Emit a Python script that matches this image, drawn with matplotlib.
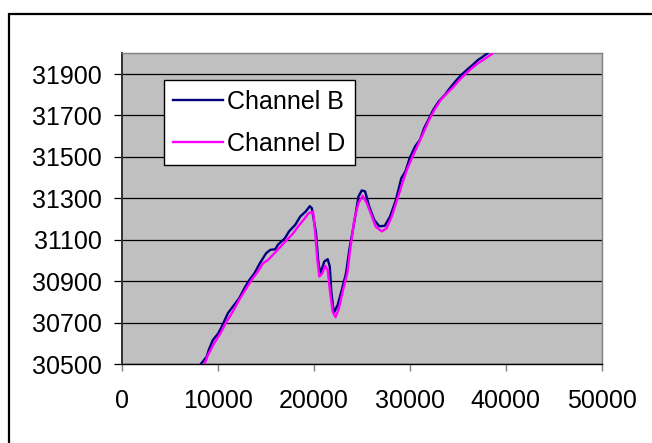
import matplotlib
matplotlib.use("Agg")
import matplotlib.pyplot as plt
from matplotlib.patches import Rectangle

# Channel B trace
b_x = [8230, 8840, 9060, 9490, 10050, 10490, 11050, 11570, 12220, 12870, 13300,
       13820, 14390, 15040, 15470, 15990, 16250, 16990, 17420, 18070, 18590,
       19150, 19590, 19800, 20240, 20450, 20670, 21100, 21450, 21670, 21840,
       22100, 22490, 22920, 23360, 23700, 24140, 24660, 25000, 25350, 25780,
       26300, 26820, 27390, 27950, 28560, 29120, 29550, 29990, 30550, 31070,
       31500, 31940, 32450, 33020, 33670, 34100, 34750, 35400, 36050, 36700,
       37140, 37570, 38090]
b_y = [30500, 30535, 30568, 30616, 30648, 30688, 30745, 30777, 30817, 30874, 30906,
       30938, 30987, 31035, 31051, 31054, 31075, 31107, 31140, 31172, 31212,
       31236, 31262, 31252, 31131, 31003, 30935, 30995, 31006, 30970, 30842,
       30748, 30785, 30858, 30938, 31051, 31164, 31309, 31338, 31333, 31260,
       31196, 31165, 31167, 31212, 31293, 31397, 31430, 31494, 31550, 31583,
       31639, 31679, 31728, 31768, 31800, 31827, 31864, 31897, 31924, 31950,
       31969, 31982, 32000]

# Channel D trace
d_x = [8620, 8970, 9620, 10270, 10920, 11570, 12220, 12870, 13520, 14170, 14730,
       15250, 15900, 16550, 17200, 17850, 18420, 18940, 19460, 19930, 20150,
       20370, 20580, 20890, 21190, 21450, 21670, 21970, 22270, 22620, 23050,
       23490, 23790, 24220, 24660, 25090, 25520, 26000, 26430, 27080, 27600,
       28120, 28690, 29250, 29770, 30330, 30850, 31410, 32020, 32580, 33240,
       33890, 34540, 35190, 35830, 36480, 37140, 37790, 38650]
d_y = [30500, 30543, 30600, 30648, 30705, 30753, 30809, 30858, 30906, 30946, 30987,
       31003, 31035, 31067, 31099, 31131, 31167, 31196, 31228, 31236, 31131,
       31003, 30922, 30938, 30974, 30954, 30858, 30753, 30726, 30769, 30858,
       30938, 31051, 31196, 31277, 31312, 31277, 31220, 31164, 31140, 31156,
       31212, 31293, 31376, 31446, 31505, 31558, 31615, 31679, 31728, 31776,
       31808, 31837, 31872, 31901, 31929, 31953, 31972, 32000]

x_ticks = [0, 10000, 20000, 30000, 40000, 50000]
y_ticks = [30500, 30700, 30900, 31100, 31300, 31500, 31700, 31900]

plt.rcParams['font.family'] = ['Liberation Sans', 'DejaVu Sans']

fig = plt.figure(figsize=(6.52, 4.43), dpi=100)
fig.patch.set_facecolor('white')

# outer chart frame
fig.patches.append(Rectangle((9 / 652, -0.1), 1.2, 1 - 14 / 443 + 0.1,
                             transform=fig.transFigure, fill=False,
                             edgecolor='black', linewidth=1.6, zorder=0))

ax = fig.add_axes([0.1868, 0.1783, 0.9229 - 0.1868, 0.8797 - 0.1783])
ax.set_facecolor('#C0C0C0')

ax.plot(b_x, b_y, color='#000080', linewidth=1.7, label='Channel B', zorder=3)
ax.plot(d_x, d_y, color='#FF00FF', linewidth=1.7, label='Channel D', zorder=3)

ax.set_xlim(0, 50000)
ax.set_ylim(30500, 32000)
ax.set_xticks(x_ticks)
ax.set_yticks(y_ticks)
ax.set_xticklabels([str(v) for v in x_ticks])
ax.set_yticklabels([str(v) for v in y_ticks])

ax.yaxis.grid(True, color='black', linewidth=0.9)
ax.set_axisbelow(True)

for side in ('top', 'right'):
    ax.spines[side].set_color('#808080')
    ax.spines[side].set_linewidth(1.0)
ax.spines['left'].set_color('#303030')
ax.spines['left'].set_linewidth(1.4)
ax.spines['bottom'].set_color('black')
ax.spines['bottom'].set_linewidth(1.0)

ax.tick_params(axis='y', direction='out', length=5.5, width=0.9, color='black',
               labelsize=18, pad=9)
ax.tick_params(axis='x', direction='out', length=5, width=1.0, color='#808080',
               labelsize=18, pad=13)

leg = ax.legend(loc='upper left', bbox_to_anchor=(164 / 652, 1 - 80.3 / 443),
                bbox_transform=fig.transFigure, borderaxespad=0,
                fontsize=18, frameon=True, fancybox=False, framealpha=1,
                edgecolor='black', handlelength=2.0, handletextpad=0.15,
                labelspacing=0.74, borderpad=0.37)
leg.get_frame().set_linewidth(1.0)

fig.savefig('out.png', dpi=100)
